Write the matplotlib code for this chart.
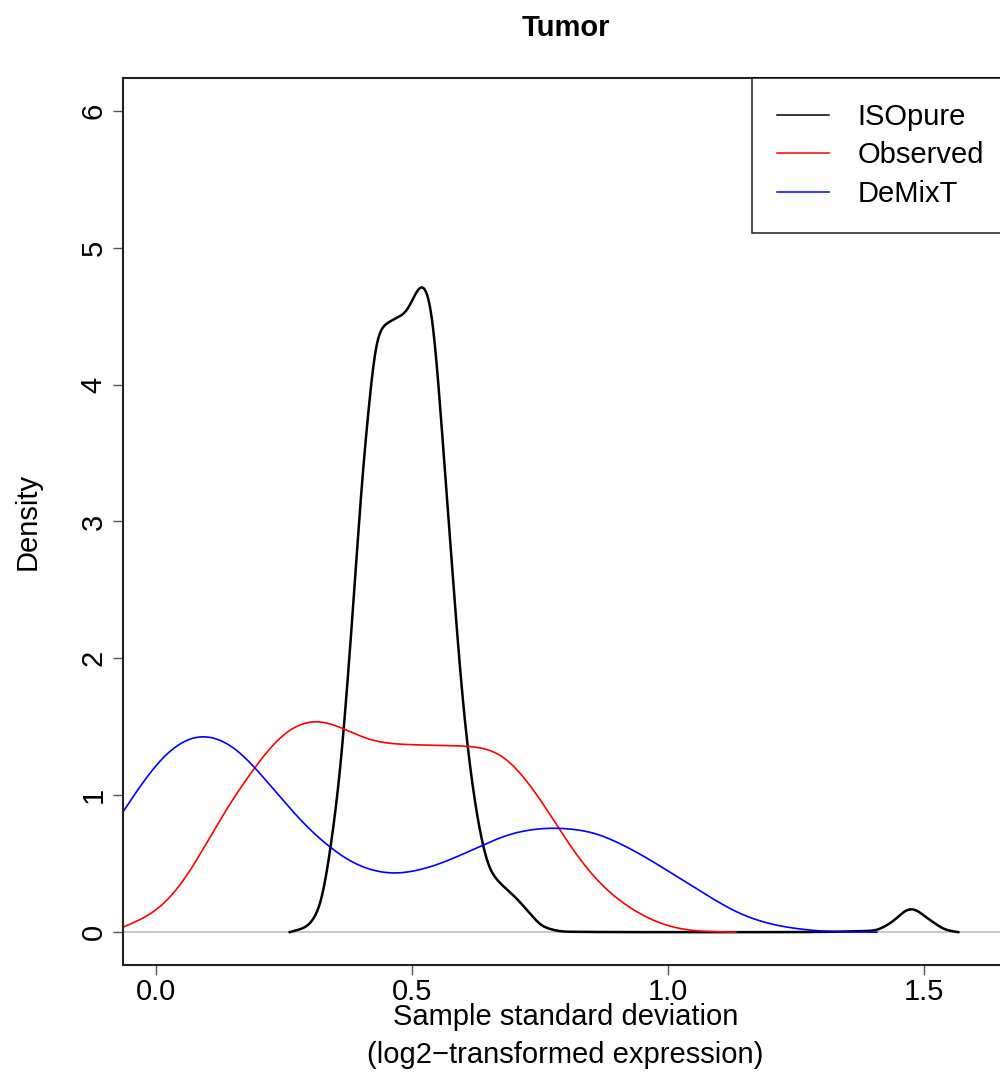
import numpy as np
import matplotlib
matplotlib.use("Agg")
import matplotlib.pyplot as plt

plt.rcParams['font.family'] = ['Liberation Sans', 'DejaVu Sans']

# density curves (x = sample sd, y = density)
iso_x = [0.262, 0.295, 0.321, 0.340, 0.360, 0.378, 0.392, 0.405, 0.417, 0.4246, 0.431,
         0.444, 0.467, 0.4898, 0.5026, 0.520, 0.535, 0.545, 0.5547, 0.5645, 0.5776,
         0.591, 0.607, 0.636, 0.652, 0.672, 0.701, 0.730, 0.756, 0.802, 1.00, 1.20,
         1.40, 1.433, 1.4737, 1.511, 1.543, 1.566]
iso_y = [0.0, 0.04, 0.186, 0.578, 1.162, 1.99, 2.72, 3.42, 3.86, 4.18, 4.35,
         4.43, 4.48, 4.53, 4.63, 4.74, 4.64, 4.35, 3.865, 3.38, 2.72,
         2.05, 1.40, 0.673, 0.454, 0.359, 0.259, 0.14, 0.04, 0.003, 0.0, 0.0,
         0.01, 0.064, 0.174, 0.088, 0.015, 0.0]

obs_x = [-0.064, -0.005, 0.047, 0.0995, 0.145, 0.190, 0.2425, 0.2816, 0.314, 0.366,
         0.412, 0.451, 0.516, 0.607, 0.646, 0.675, 0.711, 0.750, 0.787, 0.828, 0.88,
         0.932, 0.984, 1.036, 1.085, 1.132]
obs_y = [0.035, 0.137, 0.33, 0.649, 0.94, 1.184, 1.427, 1.525, 1.549, 1.489,
         1.41, 1.379, 1.367, 1.36, 1.343, 1.30, 1.17, 0.975, 0.756, 0.527, 0.307,
         0.161, 0.064, 0.015, 0.003, 0.0]

dmx_x = [-0.064, -0.0176, 0.034, 0.0898, 0.145, 0.190, 0.2425, 0.2946, 0.3466, 0.3986,
         0.4637, 0.529, 0.581, 0.636, 0.698, 0.772, 0.841, 0.919, 0.997, 1.075,
         1.153, 1.231, 1.322, 1.407]
dmx_y = [0.875, 1.135, 1.354, 1.445, 1.379, 1.22, 0.989, 0.77, 0.60, 0.478,
         0.424, 0.466, 0.539, 0.631, 0.726, 0.763, 0.741, 0.624, 0.454, 0.271,
         0.112, 0.035, 0.003, 0.0]

labels = ["ISOpure", "Observed", "DeMixT"]
colors = ["black", "red", "blue"]


def smooth(xs, ys, sigma, n=1600):
    # monotone cubic through the read points, then a light gaussian blur to round the joins
    xs = np.asarray(xs, float)
    ys = np.asarray(ys, float)
    h = np.diff(xs)
    d = np.diff(ys) / h
    m = np.zeros_like(ys)
    for i in range(1, len(xs) - 1):
        if d[i - 1] * d[i] > 0:
            w1 = 2 * h[i] + h[i - 1]
            w2 = h[i] + 2 * h[i - 1]
            m[i] = (w1 + w2) / (w1 / d[i - 1] + w2 / d[i])
    m[0] = d[0]
    m[-1] = d[-1]
    xx = np.linspace(xs[0], xs[-1], n)
    idx = np.clip(np.searchsorted(xs, xx) - 1, 0, len(xs) - 2)
    t = (xx - xs[idx]) / h[idx]
    h00 = 2 * t**3 - 3 * t**2 + 1
    h10 = t**3 - 2 * t**2 + t
    h01 = -2 * t**3 + 3 * t**2
    h11 = t**3 - t**2
    yy = h00 * ys[idx] + h10 * h[idx] * m[idx] + h01 * ys[idx + 1] + h11 * h[idx] * m[idx + 1]
    dx = xx[1] - xx[0]
    k = np.arange(-int(4 * sigma / dx), int(4 * sigma / dx) + 1) * dx
    w = np.exp(-0.5 * (k / sigma) ** 2)
    w /= w.sum()
    pad = len(k) // 2
    # point-reflect padding so the ends keep their slope
    yp = np.concatenate([2 * yy[0] - yy[pad:0:-1], yy, 2 * yy[-1] - yy[-2:-pad - 2:-1]])
    ys2 = np.convolve(yp, w, mode="valid")
    return xx, np.maximum(ys2, 0)


fig = plt.figure(figsize=(10, 10.73), dpi=100)
ax = fig.add_axes([0.1227, 0.10065, 0.8858, 0.8267])

ax.axhline(0, color="#BEBEBE", lw=1.2, zorder=1)
lws = [1.8, 1.2, 1.2]
sigmas = [0.008, 0.022, 0.025]
for xs, ys, lab, c, lw, sg in zip([iso_x, obs_x, dmx_x], [iso_y, obs_y, dmx_y], labels, colors, lws, sigmas):
    xx, yy = smooth(xs, ys, sg)
    ax.plot(xx, yy, color=c, lw=lw, label=lab, zorder=2)

ax.set_xlim(-0.064, 1.664)
ax.set_ylim(-0.24, 6.24)
ax.set_xticks([0.0, 0.5, 1.0, 1.5])
ax.set_xticklabels(["0.0", "0.5", "1.0", "1.5"])
ax.set_yticks(range(7))
ax.tick_params(labelsize=21, length=7, width=1, color="#555555", pad=4)
ax.tick_params(axis="x", pad=2)
for t in ax.get_yticklabels():
    t.set_rotation(90)
    t.set_va("center")
for s in ax.spines.values():
    s.set_linewidth(1.5)
    s.set_color("#222222")

ax.set_xlabel("Sample standard deviation\n(log2\u2212transformed expression)", fontsize=21,
              labelpad=-2, linespacing=1.45)
ax.set_ylabel("Density", fontsize=21, labelpad=27)
ax.set_title("Tumor", fontsize=21, fontweight="bold", pad=30)

leg = ax.legend(loc="upper right", fontsize=21, frameon=True, fancybox=False,
                edgecolor="black", borderaxespad=0, handlelength=1.8,
                handletextpad=0.95, labelspacing=0.36, borderpad=0.85)
leg.get_frame().set_linewidth(1.2)
for ln in leg.get_lines():
    ln.set_linewidth(1.1)

fig.savefig("out.png", dpi=100)
